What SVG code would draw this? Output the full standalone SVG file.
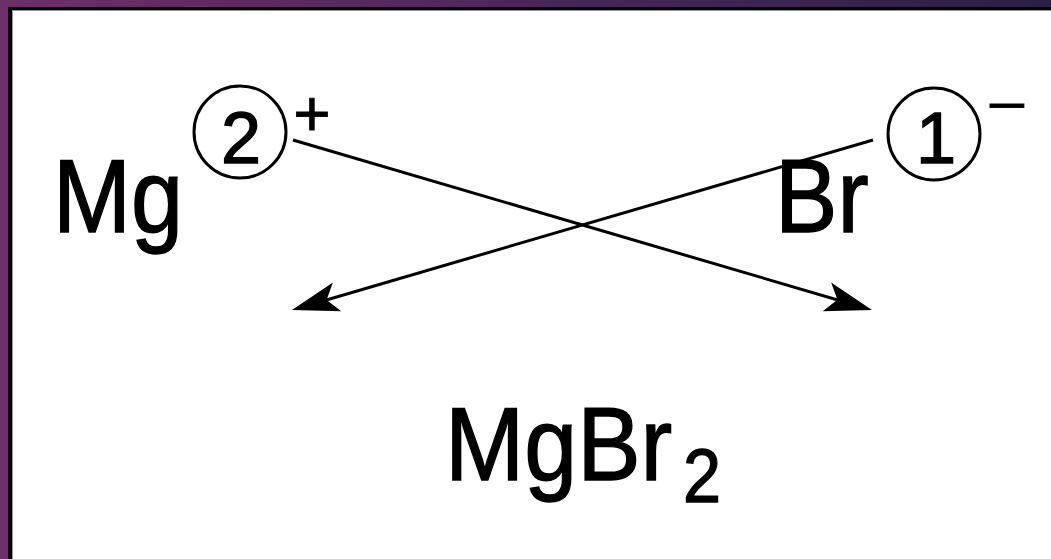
<svg xmlns="http://www.w3.org/2000/svg" width="1051" height="559" viewBox="0 0 1051 559">
  <defs>
    <linearGradient id="topGrad" x1="0" y1="0" x2="1" y2="0">
      <stop offset="0" stop-color="#6e2e6b"/>
      <stop offset="1" stop-color="#2b1f47"/>
    </linearGradient>
    <marker id="arrow" markerUnits="userSpaceOnUse" viewBox="-60 -20 60 40" markerWidth="60" markerHeight="40" refX="-10" refY="0" orient="auto">
      <path d="M0,0 L-47,-15 L-36,0 L-47,15 Z" fill="#000"/>
    </marker>
    <style>
      .t { font-family: "Liberation Sans", Arial, sans-serif; fill: #000; stroke: #000; stroke-width: 1.4; }
      .sign { font-family: "Liberation Sans", Arial, sans-serif; fill: #000; stroke: #000; stroke-width: 0.8; }
      .ring { fill: none; stroke: #000; stroke-width: 3; }
      .conn { fill: none; stroke: #000; stroke-width: 3; marker-end: url(#arrow); }
    </style>
  </defs>

  <!-- frame -->
  <rect x="0" y="0" width="1051" height="559" fill="#6f2f6c"/>
  <rect x="0" y="0" width="1051" height="8" fill="url(#topGrad)"/>
  <rect x="8" y="7" width="1043" height="552" fill="#000"/>
  <rect x="12" y="10" width="1039" height="549" fill="#9a9a9a"/>
  <rect x="13" y="11" width="1038" height="548" fill="#fff"/>

  <g id="mg">
    <text class="t" font-size="104" transform="translate(53,232) scale(0.9,1)">Mg</text>
    <circle class="ring" cx="240" cy="132" r="46"/>
    <text class="t" font-size="72" x="241" y="163" text-anchor="middle">2</text>
    <text class="sign" font-size="64" x="312" y="136" text-anchor="middle">+</text>
  </g>

  <g id="br">
    <text class="t" font-size="104" transform="translate(775,232) scale(0.9,1)">Br</text>
    <circle class="ring" cx="934" cy="134" r="46"/>
    <text class="t" font-size="72" x="936" y="163" text-anchor="middle">1</text>
    <text class="sign" font-size="70" transform="translate(1007,104) scale(1,0.75)" x="0" y="25" text-anchor="middle">−</text>
  </g>

  <g id="mgbr2">
    <text class="t" font-size="104" transform="translate(445,480) scale(0.915,1)">MgBr</text>
    <text class="t" font-size="76" transform="translate(683,502) scale(0.9,1)">2</text>
  </g>

  <g id="connectors">
    <line class="conn" x1="293" y1="140" x2="862.4" y2="307.2"/>
    <line class="conn" x1="873" y1="140" x2="301.6" y2="307.2"/>
  </g>
</svg>
